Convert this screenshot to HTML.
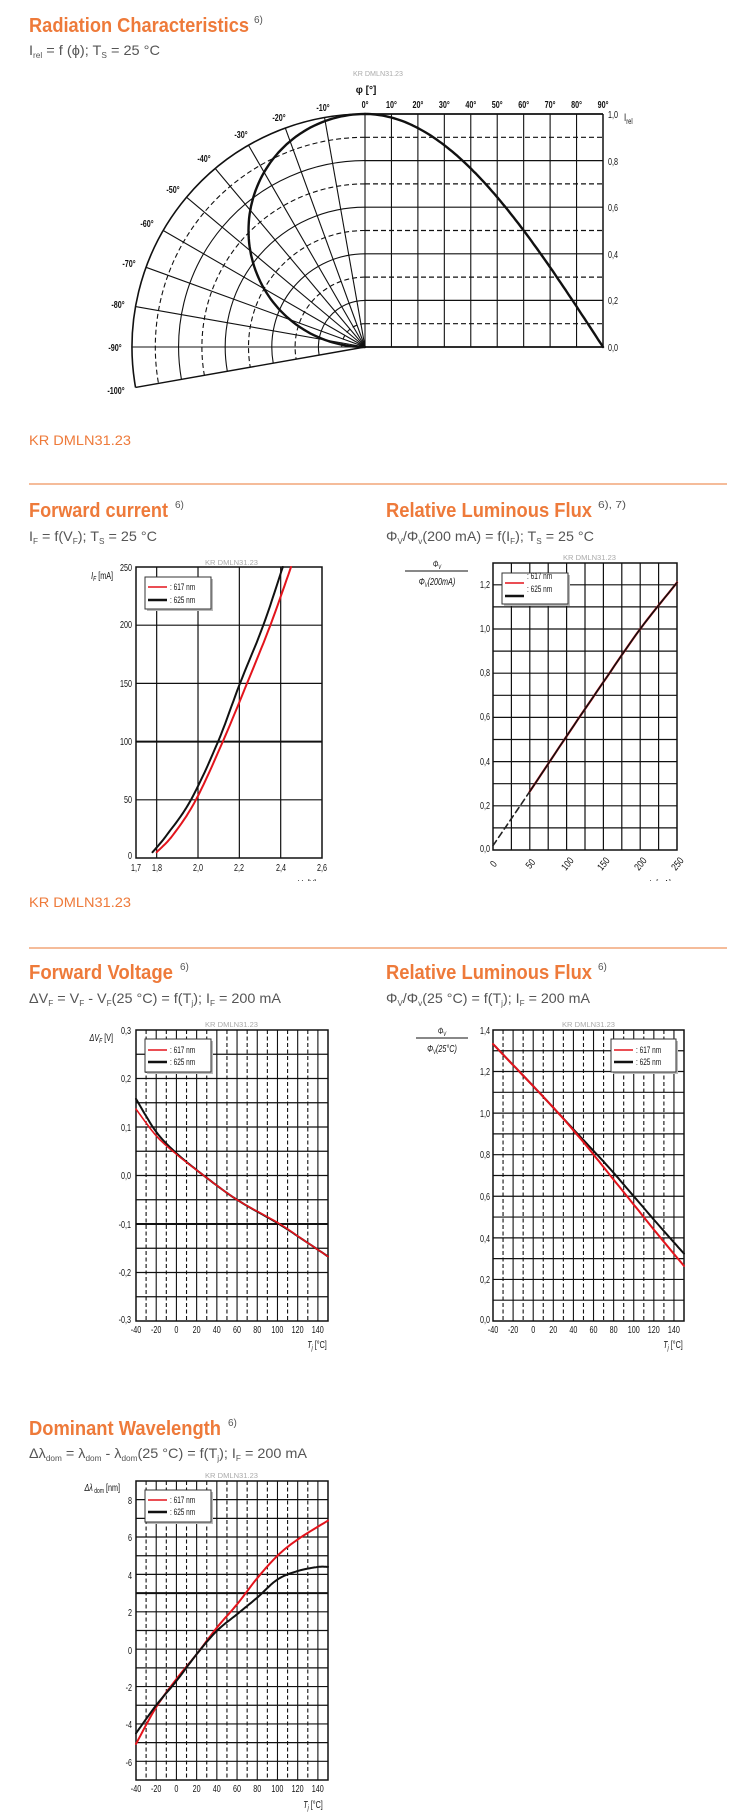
<!DOCTYPE html>
<html><head><meta charset="utf-8"><style>
html,body{margin:0;padding:0;background:#fff}
svg{display:block}
text{font-family:"Liberation Sans",sans-serif}
.ti{font-size:20px;font-weight:bold;fill:#ee7a3a}
.su{font-size:14px;fill:#555}
.sp{font-size:10px;fill:#555}
.kr{font-size:14px;fill:#ee7a3a}
.wm{font-size:7px;fill:#aaa}
.l{font-size:10px;fill:#111}
.lb{font-size:10px;fill:#111;font-weight:bold}
.lg{font-size:9px;fill:#111}
</style></head><body>
<svg id="s" width="750" height="1818" viewBox="0 0 750 1818" xmlns="http://www.w3.org/2000/svg">
<rect width="750" height="1818" fill="#fff"/>
<g id="geo"></g>

<!-- Section 1 -->
<text class="ti" x="29" y="32" textLength="220" lengthAdjust="spacingAndGlyphs">Radiation Characteristics</text>
<text class="sp" x="254" y="23">6)</text>
<text class="su" x="29" y="55" textLength="131" lengthAdjust="spacingAndGlyphs">I<tspan font-size="8" dy="3">rel</tspan><tspan dy="-3"> = f (ϕ); T</tspan><tspan font-size="8" dy="3">S</tspan><tspan dy="-3"> = 25 °C</tspan></text>
<text class="wm" x="353" y="76" textLength="50" lengthAdjust="spacingAndGlyphs">KR DMLN31.23</text>
<text class="lb" x="366" y="93" text-anchor="middle" font-size="12">φ [°]</text>
<g class="lb" text-anchor="middle">
<text transform="translate(365,108) scale(.72,1)">0°</text>
<text transform="translate(391.4,108) scale(.72,1)">10°</text>
<text transform="translate(417.9,108) scale(.72,1)">20°</text>
<text transform="translate(444.3,108) scale(.72,1)">30°</text>
<text transform="translate(470.8,108) scale(.72,1)">40°</text>
<text transform="translate(497.2,108) scale(.72,1)">50°</text>
<text transform="translate(523.7,108) scale(.72,1)">60°</text>
<text transform="translate(550.1,108) scale(.72,1)">70°</text>
<text transform="translate(576.6,108) scale(.72,1)">80°</text>
<text transform="translate(603,108) scale(.72,1)">90°</text>
<text transform="translate(323,111) scale(.72,1)">-10°</text>
<text transform="translate(279,121) scale(.72,1)">-20°</text>
<text transform="translate(241,138) scale(.72,1)">-30°</text>
<text transform="translate(204,162) scale(.72,1)">-40°</text>
<text transform="translate(173,193) scale(.72,1)">-50°</text>
<text transform="translate(147,227) scale(.72,1)">-60°</text>
<text transform="translate(129,267) scale(.72,1)">-70°</text>
<text transform="translate(118,308) scale(.72,1)">-80°</text>
<text transform="translate(115,351) scale(.72,1)">-90°</text>
<text transform="translate(116,394) scale(.72,1)">-100°</text>
</g>
<g class="l">
<text transform="translate(608,118) scale(.72,1)">1,0</text>
<text transform="translate(608,165) scale(.72,1)">0,8</text>
<text transform="translate(608,211) scale(.72,1)">0,6</text>
<text transform="translate(608,258) scale(.72,1)">0,4</text>
<text transform="translate(608,304) scale(.72,1)">0,2</text>
<text transform="translate(608,351) scale(.72,1)">0,0</text>
<text transform="translate(624,121) scale(.72,1)" font-size="11">I<tspan font-size="8" dy="3">rel</tspan></text>
</g>
<text class="kr" x="29" y="445" textLength="102" lengthAdjust="spacingAndGlyphs">KR DMLN31.23</text>
<line x1="29" y1="484" x2="727" y2="484" stroke="#f2a678" stroke-width="1.5"/>

<!-- Section 2 -->
<text class="ti" x="29" y="517" textLength="139" lengthAdjust="spacingAndGlyphs">Forward current</text>
<text class="sp" x="175" y="508">6)</text>
<text class="su" x="29" y="541" textLength="128" lengthAdjust="spacingAndGlyphs">I<tspan font-size="8" dy="3">F</tspan><tspan dy="-3"> = f(V</tspan><tspan font-size="8" dy="3">F</tspan><tspan dy="-3">); T</tspan><tspan font-size="8" dy="3">S</tspan><tspan dy="-3"> = 25 °C</tspan></text>
<text class="ti" x="386" y="517" textLength="206" lengthAdjust="spacingAndGlyphs">Relative Luminous Flux</text>
<text class="sp" x="598" y="508" textLength="28" lengthAdjust="spacingAndGlyphs">6), 7)</text>
<text class="su" x="386" y="541" textLength="208" lengthAdjust="spacingAndGlyphs">Φ<tspan font-size="8" dy="3">V</tspan><tspan dy="-3">/Φ</tspan><tspan font-size="8" dy="3">v</tspan><tspan dy="-3">(200 mA) = f(I</tspan><tspan font-size="8" dy="3">F</tspan><tspan dy="-3">); T</tspan><tspan font-size="8" dy="3">S</tspan><tspan dy="-3"> = 25 °C</tspan></text>
<text class="wm" x="205" y="565" textLength="53" lengthAdjust="spacingAndGlyphs">KR DMLN31.23</text>
<text class="wm" x="563" y="560" textLength="53" lengthAdjust="spacingAndGlyphs">KR DMLN31.23</text>

<g class="l" text-anchor="end">
<text transform="translate(113,579) scale(.72,1)" font-style="italic">I<tspan font-size="7" dy="2">F</tspan><tspan dy="-2" font-style="normal"> [mA]</tspan></text>
<text transform="translate(132,571) scale(.72,1)">250</text>
<text transform="translate(132,628) scale(.72,1)">200</text>
<text transform="translate(132,687) scale(.72,1)">150</text>
<text transform="translate(132,745) scale(.72,1)">100</text>
<text transform="translate(132,803) scale(.72,1)">50</text>
<text transform="translate(132,859) scale(.72,1)">0</text>
<text transform="translate(490,588) scale(.72,1)">1,2</text>
<text transform="translate(490,632) scale(.72,1)">1,0</text>
<text transform="translate(490,676) scale(.72,1)">0,8</text>
<text transform="translate(490,720) scale(.72,1)">0,6</text>
<text transform="translate(490,765) scale(.72,1)">0,4</text>
<text transform="translate(490,809) scale(.72,1)">0,2</text>
<text transform="translate(490,852) scale(.72,1)">0,0</text>
</g>
<g class="l" text-anchor="middle">
<text transform="translate(136,871) scale(.72,1)">1,7</text>
<text transform="translate(157,871) scale(.72,1)">1,8</text>
<text transform="translate(198,871) scale(.72,1)">2,0</text>
<text transform="translate(239,871) scale(.72,1)">2,2</text>
<text transform="translate(281,871) scale(.72,1)">2,4</text>
<text transform="translate(322,871) scale(.72,1)">2,6</text>
<text transform="translate(307,887) scale(.72,1)" font-style="italic">V<tspan font-size="7" dy="2">F</tspan><tspan dy="-2" font-style="normal"> [V]</tspan></text>
<text transform="translate(660,887) scale(.72,1)" font-style="italic">I<tspan font-size="7" dy="2">F</tspan><tspan dy="-2" font-style="normal"> [mA]</tspan></text>
<text transform="translate(496,866) rotate(-50) scale(.8,1)">0</text>
<text transform="translate(533,866) rotate(-50) scale(.8,1)">50</text>
<text transform="translate(570,866) rotate(-50) scale(.8,1)">100</text>
<text transform="translate(606,866) rotate(-50) scale(.8,1)">150</text>
<text transform="translate(643,866) rotate(-50) scale(.8,1)">200</text>
<text transform="translate(680,866) rotate(-50) scale(.8,1)">250</text>
<text transform="translate(437,567) scale(.72,1)" font-style="italic" font-size="9">Φ<tspan font-size="6" dy="2">V</tspan></text>
<text transform="translate(437,585) scale(.72,1)" font-style="italic" font-size="10">Φ<tspan font-size="6" dy="2">V</tspan><tspan dy="-2">(200mA)</tspan></text>
</g>
<line x1="405" y1="571" x2="468" y2="571" stroke="#111" stroke-width="1"/>
<rect x="0" y="881" width="750" height="11" fill="#fff"/>
<text class="kr" x="29" y="907" textLength="102" lengthAdjust="spacingAndGlyphs">KR DMLN31.23</text>
<line x1="29" y1="948" x2="727" y2="948" stroke="#f2a678" stroke-width="1.5"/>

<!-- Section 3 -->
<text class="ti" x="29" y="979" textLength="144" lengthAdjust="spacingAndGlyphs">Forward Voltage</text>
<text class="sp" x="180" y="970">6)</text>
<text class="su" x="29" y="1003" textLength="252" lengthAdjust="spacingAndGlyphs">ΔV<tspan font-size="8" dy="3">F</tspan><tspan dy="-3"> = V</tspan><tspan font-size="8" dy="3">F</tspan><tspan dy="-3"> - V</tspan><tspan font-size="8" dy="3">F</tspan><tspan dy="-3">(25 °C) = f(T</tspan><tspan font-size="8" dy="3">j</tspan><tspan dy="-3">); I</tspan><tspan font-size="8" dy="3">F</tspan><tspan dy="-3"> = 200 mA</tspan></text>
<text class="ti" x="386" y="979" textLength="206" lengthAdjust="spacingAndGlyphs">Relative Luminous Flux</text>
<text class="sp" x="598" y="970">6)</text>
<text class="su" x="386" y="1003" textLength="204" lengthAdjust="spacingAndGlyphs">Φ<tspan font-size="8" dy="3">V</tspan><tspan dy="-3">/Φ</tspan><tspan font-size="8" dy="3">v</tspan><tspan dy="-3">(25 °C) = f(T</tspan><tspan font-size="8" dy="3">j</tspan><tspan dy="-3">); I</tspan><tspan font-size="8" dy="3">F</tspan><tspan dy="-3"> = 200 mA</tspan></text>
<text class="wm" x="205" y="1027" textLength="53" lengthAdjust="spacingAndGlyphs">KR DMLN31.23</text>
<text class="wm" x="562" y="1027" textLength="53" lengthAdjust="spacingAndGlyphs">KR DMLN31.23</text>
<g class="l" text-anchor="end">
<text transform="translate(113,1041) scale(.72,1)" font-style="italic">ΔV<tspan font-size="7" dy="2">F</tspan><tspan dy="-2" font-style="normal"> [V]</tspan></text>
<text transform="translate(131,1034) scale(.72,1)">0,3</text>
<text transform="translate(131,1082) scale(.72,1)">0,2</text>
<text transform="translate(131,1131) scale(.72,1)">0,1</text>
<text transform="translate(131,1179) scale(.72,1)">0,0</text>
<text transform="translate(131,1228) scale(.72,1)">-0,1</text>
<text transform="translate(131,1276) scale(.72,1)">-0,2</text>
<text transform="translate(131,1323) scale(.72,1)">-0,3</text>
<text transform="translate(490,1034) scale(.72,1)">1,4</text>
<text transform="translate(490,1075) scale(.72,1)">1,2</text>
<text transform="translate(490,1117) scale(.72,1)">1,0</text>
<text transform="translate(490,1158) scale(.72,1)">0,8</text>
<text transform="translate(490,1200) scale(.72,1)">0,6</text>
<text transform="translate(490,1242) scale(.72,1)">0,4</text>
<text transform="translate(490,1283) scale(.72,1)">0,2</text>
<text transform="translate(490,1323) scale(.72,1)">0,0</text>
</g>
<g class="l" text-anchor="middle">
<text transform="translate(442,1034) scale(.72,1)" font-style="italic" font-size="9">Φ<tspan font-size="6" dy="2">V</tspan></text>
<text transform="translate(442,1052) scale(.72,1)" font-style="italic">Φ<tspan font-size="6" dy="2">V</tspan><tspan dy="-2">(25°C)</tspan></text>
</g>
<line x1="416" y1="1038" x2="468" y2="1038" stroke="#111" stroke-width="1"/>
<g class="l" text-anchor="middle">
<text transform="translate(136,1333) scale(.72,1)">-40</text>
<text transform="translate(156.2,1333) scale(.72,1)">-20</text>
<text transform="translate(176.4,1333) scale(.72,1)">0</text>
<text transform="translate(196.6,1333) scale(.72,1)">20</text>
<text transform="translate(216.8,1333) scale(.72,1)">40</text>
<text transform="translate(237,1333) scale(.72,1)">60</text>
<text transform="translate(257.2,1333) scale(.72,1)">80</text>
<text transform="translate(277.4,1333) scale(.72,1)">100</text>
<text transform="translate(297.6,1333) scale(.72,1)">120</text>
<text transform="translate(317.8,1333) scale(.72,1)">140</text>
<text transform="translate(317,1348) scale(.72,1)" font-style="italic">T<tspan font-size="7" dy="2">j</tspan><tspan dy="-2" font-style="normal"> [°C]</tspan></text>
<text transform="translate(493,1333) scale(.72,1)">-40</text>
<text transform="translate(513.1,1333) scale(.72,1)">-20</text>
<text transform="translate(533.2,1333) scale(.72,1)">0</text>
<text transform="translate(553.3,1333) scale(.72,1)">20</text>
<text transform="translate(573.4,1333) scale(.72,1)">40</text>
<text transform="translate(593.5,1333) scale(.72,1)">60</text>
<text transform="translate(613.6,1333) scale(.72,1)">80</text>
<text transform="translate(633.7,1333) scale(.72,1)">100</text>
<text transform="translate(653.8,1333) scale(.72,1)">120</text>
<text transform="translate(673.9,1333) scale(.72,1)">140</text>
<text transform="translate(673,1348) scale(.72,1)" font-style="italic">T<tspan font-size="7" dy="2">j</tspan><tspan dy="-2" font-style="normal"> [°C]</tspan></text>
</g>

<!-- Section 4 -->
<text class="ti" x="29" y="1435" textLength="192" lengthAdjust="spacingAndGlyphs">Dominant Wavelength</text>
<text class="sp" x="228" y="1426">6)</text>
<text class="su" x="29" y="1458" textLength="278" lengthAdjust="spacingAndGlyphs">Δλ<tspan font-size="8" dy="3">dom</tspan><tspan dy="-3"> = λ</tspan><tspan font-size="8" dy="3">dom</tspan><tspan dy="-3"> - λ</tspan><tspan font-size="8" dy="3">dom</tspan><tspan dy="-3">(25 °C) = f(T</tspan><tspan font-size="8" dy="3">j</tspan><tspan dy="-3">); I</tspan><tspan font-size="8" dy="3">F</tspan><tspan dy="-3"> = 200 mA</tspan></text>
<text class="wm" x="205" y="1478" textLength="53" lengthAdjust="spacingAndGlyphs">KR DMLN31.23</text>
<g class="l" text-anchor="end">
<text transform="translate(120,1491) scale(.72,1)" font-style="italic">Δλ<tspan font-size="7" dy="2" font-style="normal"> dom</tspan><tspan dy="-2" font-style="normal"> [nm]</tspan></text>
<text transform="translate(132,1504) scale(.72,1)">8</text>
<text transform="translate(132,1541) scale(.72,1)">6</text>
<text transform="translate(132,1579) scale(.72,1)">4</text>
<text transform="translate(132,1616) scale(.72,1)">2</text>
<text transform="translate(132,1654) scale(.72,1)">0</text>
<text transform="translate(132,1691) scale(.72,1)">-2</text>
<text transform="translate(132,1728) scale(.72,1)">-4</text>
<text transform="translate(132,1766) scale(.72,1)">-6</text>
</g>
<g class="l" text-anchor="middle">
<text transform="translate(136,1792) scale(.72,1)">-40</text>
<text transform="translate(156.2,1792) scale(.72,1)">-20</text>
<text transform="translate(176.4,1792) scale(.72,1)">0</text>
<text transform="translate(196.6,1792) scale(.72,1)">20</text>
<text transform="translate(216.8,1792) scale(.72,1)">40</text>
<text transform="translate(237,1792) scale(.72,1)">60</text>
<text transform="translate(257.2,1792) scale(.72,1)">80</text>
<text transform="translate(277.4,1792) scale(.72,1)">100</text>
<text transform="translate(297.6,1792) scale(.72,1)">120</text>
<text transform="translate(317.8,1792) scale(.72,1)">140</text>
<text transform="translate(313,1808) scale(.72,1)" font-style="italic">T<tspan font-size="7" dy="2">j</tspan><tspan dy="-2" font-style="normal"> [°C]</tspan></text>
</g>

<!-- legends -->
<g id="legends"></g>
<g class="lg">
<text transform="translate(170,590) scale(.72,1)">: 617 nm</text>
<text transform="translate(170,603) scale(.72,1)">: 625 nm</text>
<text transform="translate(527,579) scale(.72,1)">: 617 nm</text>
<text transform="translate(527,592) scale(.72,1)">: 625 nm</text>
<text transform="translate(170,1053) scale(.72,1)">: 617 nm</text>
<text transform="translate(170,1065) scale(.72,1)">: 625 nm</text>
<text transform="translate(636,1053) scale(.72,1)">: 617 nm</text>
<text transform="translate(636,1065) scale(.72,1)">: 625 nm</text>
<text transform="translate(170,1503) scale(.72,1)">: 617 nm</text>
<text transform="translate(170,1515) scale(.72,1)">: 625 nm</text>
</g>
</svg>
<script>
(function(){
const S='http://www.w3.org/2000/svg';
const G=document.getElementById('geo');
const LG=document.getElementById('legends');
function el(n,a,p){const e=document.createElementNS(S,n);for(const k in a)e.setAttribute(k,a[k]);(p||G).appendChild(e);return e;}
function line(x1,y1,x2,y2,w,c,d){const a={x1:x1,y1:y1,x2:x2,y2:y2,stroke:c||'#111','stroke-width':w||1};if(d)a['stroke-dasharray']=d;el('line',a);}
function poly(pts,c,w,d){const a={points:pts.map(p=>p[0].toFixed(1)+','+p[1].toFixed(1)).join(' '),fill:'none',stroke:c,'stroke-width':w,'stroke-linejoin':'round','stroke-linecap':'round'};if(d)a['stroke-dasharray']=d;el('polyline',a);}
function smooth(data,X,Y){const out=[];for(let i=0;i<data.length-1;i++){const p0=data[Math.max(i-1,0)],p1=data[i],p2=data[i+1],p3=data[Math.min(i+2,data.length-1)];for(let s=0;s<10;s++){const t=s/10,t2=t*t,t3=t2*t;const f=(a,b,c,d)=>0.5*(2*b+(-a+c)*t+(2*a-5*b+4*c-d)*t2+(-a+3*b-3*c+d)*t3);out.push([X(f(p0[0],p1[0],p2[0],p3[0])),Y(f(p0[1],p1[1],p2[1],p3[1]))]);}}const l=data[data.length-1];out.push([X(l[0]),Y(l[1])]);return out;}
const RED='#e3141c',BLK='#111';

// Radiation
const ox=365,oy=347,R=233,cw=238/9;
for(let k=0;k<=10;k++){const r=k/10*R,y=oy-r,d=(k%2)?'5,3':null;
  line(ox,y,603,y,(k==0||k==10)?1.8:1.2,'#111',d);
  if(k>0){const a=100*Math.PI/180;const at={d:'M'+ox+','+y+' A'+r+','+r+' 0 0 0 '+(ox-r*Math.sin(a)).toFixed(2)+','+(oy-r*Math.cos(a)).toFixed(2),fill:'none',stroke:'#111','stroke-width':k==10?1.6:1.1};if(d)at['stroke-dasharray']=d;el('path',at);}
}
for(let j=0;j<=9;j++)line(ox+j*cw,114,ox+j*cw,347,j==9?1.5:1.1);
for(let j=1;j<=10;j++){const a=j*10*Math.PI/180;line(ox,oy,ox-R*Math.sin(a),oy-R*Math.cos(a),j==10?1.4:1.1);}
const I=t=>Math.max(0,Math.cos(t*Math.PI/180));
let pr=[],pl=[];
for(let t=0;t<=90;t+=1){pr.push([ox+t/90*238,oy-I(t)*R]);const a=t*Math.PI/180;pl.push([ox-I(t)*R*Math.sin(a),oy-I(t)*R*Math.cos(a)]);}
poly(pr,BLK,2.4);poly(pl,BLK,2.4);

function box(x1,y1,x2,y2){el('rect',{x:x1,y:y1,width:x2-x1,height:y2-y1,fill:'none',stroke:'#111','stroke-width':1.5});}
function legend(x,y,w,h,ry,by){
  el('rect',{x:x+2,y:y+2,width:w,height:h,fill:'#bbb'},LG);
  el('rect',{x:x,y:y,width:w,height:h,fill:'#fff',stroke:'#333','stroke-width':1},LG);
  el('line',{x1:x+3,y1:ry,x2:x+22,y2:ry,stroke:RED,'stroke-width':1.6},LG);
  el('line',{x1:x+3,y1:by,x2:x+22,y2:by,stroke:BLK,'stroke-width':2.4},LG);
}

// Forward current
{const X=v=>136+(v-1.7)*206.7,Y=i=>858-i*291/250;
 [50,100,150,200].forEach(i=>line(136,Y(i),322,Y(i),i==100?2:1.2));
 [1.8,2.0,2.2,2.4].forEach(v=>line(X(v),567,X(v),858,1.2));
 box(136,567,322,858);
 poly(smooth([[1.78,5],[1.85,20],[1.966,50],[2.097,100],[2.203,150],[2.316,200],[2.41,250]],X,Y),BLK,2);
 poly(smooth([[1.8,5],[1.88,20],[1.99,50],[2.12,100],[2.237,150],[2.35,200],[2.45,250]],X,Y),RED,2);
 legend(145,577,66,32,587,600);}

// Flux vs IF
{const X=i=>493+i*0.736,Y=f=>850-f*221;
 for(let k=1;k<=12;k++)line(493,Y(k/10),677,Y(k/10),1.2);
 for(let k=1;k<=9;k++)line(X(k*25),563,X(k*25),850,1.2);
 box(493,563,677,850);
 const d=[[0,0.02],[50,0.265],[100,0.515],[150,0.76],[200,1.0],[250,1.21]];
 const pts=smooth(d,X,Y);
 poly(pts.slice(0,11),'#222',1.6,'6,4');
 poly(pts.slice(10),RED,2.2);poly(pts.slice(10),BLK,1.6);
 legend(502,573,66,31,583,596);}

// Forward voltage
{const X=t=>136+(t+40)*192/190,Y=v=>1030+(0.3-v)*485;
 for(let k=1;k<12;k++){const v=0.3-k*0.05;line(136,Y(v),328,Y(v),Math.abs(v+0.1)<1e-6?2:1.2);}
 for(let t=-30;t<150;t+=10){const odd=((t/10)%2!=0);line(X(t),1030,X(t),1321,1.1,'#111',odd?'4,2.5':null);}
 box(136,1030,328,1321);
 poly(smooth([[-40,0.158],[-20,0.09],[0,0.046],[27,0],[60,-0.05],[100,-0.098],[125,-0.132],[150,-0.167]],X,Y),BLK,2);
 poly(smooth([[-40,0.137],[-20,0.082],[0,0.044],[27,0],[60,-0.05],[100,-0.097],[125,-0.132],[150,-0.167]],X,Y),RED,1.6);
 legend(145,1039,66,33,1050,1062);}

// Flux vs Tj
{const X=t=>493+(t+40)*191/190,Y=f=>1321-f*207.9;
 for(let k=1;k<14;k++)line(493,Y(k/10),684,Y(k/10),1.2);
 for(let t=-30;t<150;t+=10){const odd=((t/10)%2!=0);line(X(t),1030,X(t),1321,1.1,'#111',odd?'4,2.5':null);}
 box(493,1030,684,1321);
 poly(smooth([[-40,1.332],[0,1.13],[25,1.0],[50,0.87],[75,0.74],[100,0.6],[125,0.46],[150,0.324]],X,Y),BLK,2);
 poly(smooth([[-40,1.332],[0,1.13],[25,1.0],[50,0.86],[75,0.71],[100,0.56],[125,0.41],[150,0.265]],X,Y),RED,2);
 legend(611,1039,65,33,1050,1062);}

// Dominant wavelength
{const X=t=>136+(t+40)*192/190,Y=d=>1780-(d+7)*18.69;
 for(let d=-6;d<=8;d++)line(136,Y(d),328,Y(d),d==3?2:1.2);
 for(let t=-30;t<150;t+=10){const odd=((t/10)%2!=0);line(X(t),1481,X(t),1780,1.1,'#111',odd?'4,2.5':null);}
 box(136,1481,328,1780);
 poly(smooth([[-40,-5.07],[-20,-3.1],[0,-1.6],[20,-0.27],[40,1.15],[60,2.4],[80,3.8],[100,5.0],[120,5.87],[150,6.88]],X,Y),RED,2);
 poly(smooth([[-40,-4.5],[-20,-3.0],[0,-1.7],[20,-0.27],[40,0.98],[60,1.87],[80,2.76],[100,3.73],[120,4.18],[140,4.4],[150,4.4]],X,Y),BLK,2);
 legend(145,1490,66,32,1500,1512);}
})();
</script>
</body></html>
